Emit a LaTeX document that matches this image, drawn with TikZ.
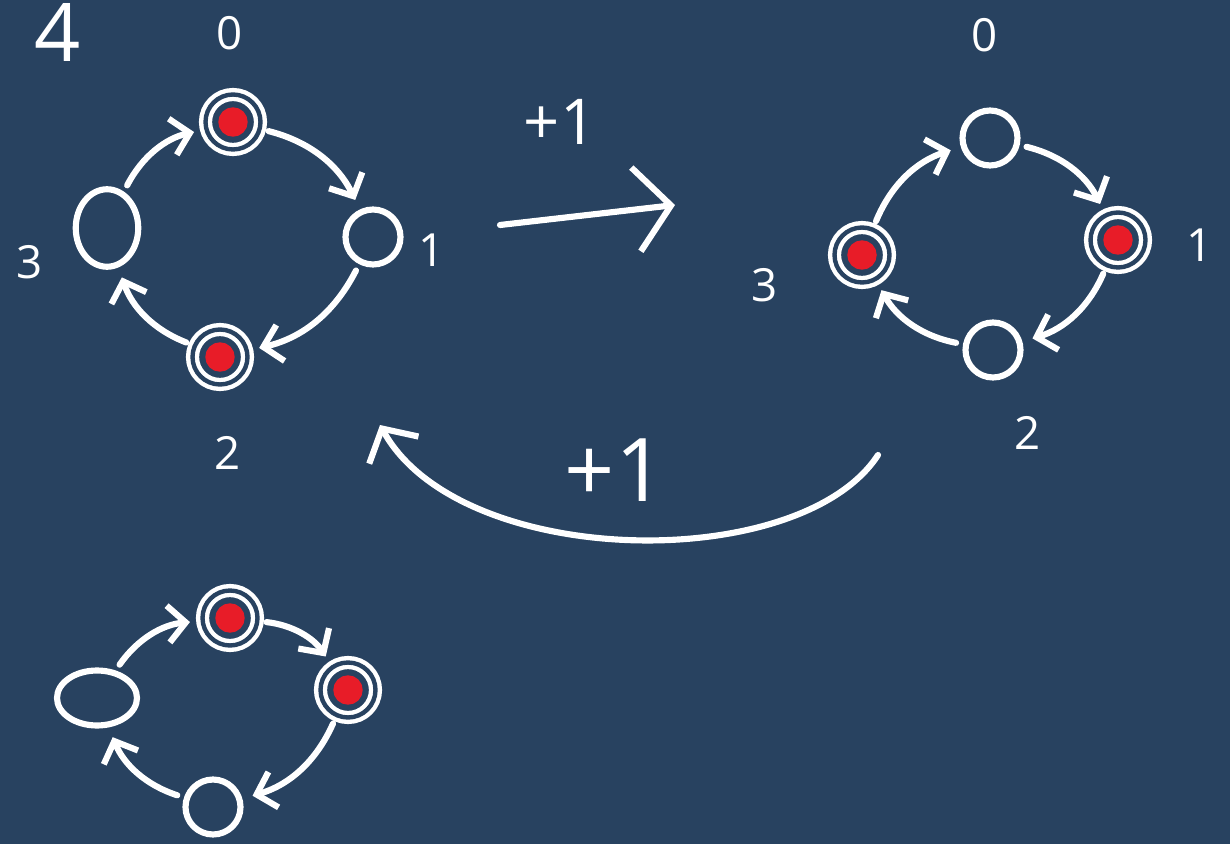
\documentclass[tikz,border=0pt]{standalone}
\usepackage{fontspec}
\setmainfont{Open Sans}
\usetikzlibrary{positioning,arrows.meta,shapes.geometric}
\definecolor{board}{RGB}{40,66,96}
\definecolor{pen}{RGB}{232,28,40}

\begin{document}
\begin{tikzpicture}[x=0.02cm,y=-0.02cm,
      ring/.style={circle,draw=white,line width=3.5pt,minimum size=1.1cm,inner sep=0pt},
      oval/.style={ellipse,draw=white,line width=3.5pt,inner sep=0pt},
      held/.style={ring,double=board,double distance=2.5pt,line width=2.5pt,minimum size=1.1cm},
      redmark/.style={circle,draw=pen,fill=pen,line width=2.5pt,minimum size=0.5cm,inner sep=0pt},
      lbl/.style={text=white,font=\fontsize{26}{26}\selectfont},
      arr/.style={draw=white,line width=3.5pt,line cap=round,-{Straight Barb[length=10pt,width=21pt]}}]
    \path[use as bounding box,fill=board] (0,0) rectangle (1230,844);
    % before
    \node[held] (a0) at (233,122) {};
    \node[ring] (a1) at (373,237) {};
    \node[held] (a2) at (220,357) {};
    \node[oval,minimum width=1.25cm,minimum height=1.55cm] (a3) at (107,228) {};
    \node[lbl,font=\fontsize{46}{46}\selectfont] (count) at (58,32) {4};
    \node[lbl] (a0-lbl) at (230,33) {0};
    \node[lbl] (a1-lbl) at (432,250) {1};
    \node[lbl] (a2-lbl) at (228,453) {2};
    \node[lbl] (a3-lbl) at (30,262) {3};
    % after one step
    \node[ring] (b0) at (990,138) {};
    \node[held] (b1) at (1118,240) {};
    \node[ring] (b2) at (993,350) {};
    \node[held] (b3) at (862,255) {};
    \node[lbl] (b0-lbl) at (985,35) {0};
    \node[lbl] (b1-lbl) at (1200,245) {1};
    \node[lbl] (b2-lbl) at (1028,433) {2};
    \node[lbl] (b3-lbl) at (765,285) {3};
    % next
    \node[held] (c0) at (230,618) {};
    \node[held] (c1) at (348,690) {};
    \node[ring] (c2) at (213,807) {};
    \node[oval,minimum width=1.6cm,minimum height=1.1cm] (c3) at (97,698) {};
    \foreach \n in {a0,a2,b1,b3,c0,c1} {
      \node[redmark] (\n-red) at (\n) {};
    }
    \foreach \s/\t in {a3/a0,a0/a1,a1/a2,a2/a3,b3/b0,b0/b1,b1/b2,b2/b3,c3/c0,c0/c1,c1/c2,c2/c3} {
      \draw[arr,shorten <=4pt,shorten >=6pt] (\s) to[bend left=25] (\t);
    }
    % shifts
    \coordinate (go) at (500,225);
    \coordinate (gone) at (675,205);
    \draw[arr,-{Straight Barb[length=20pt,width=48pt]}] (go) -- (gone);
    \node[lbl,font=\fontsize{36}{36}\selectfont] (go-lbl) at (560,122) {+1};
    \coordinate (back) at (878,455);
    \coordinate (backend) at (380,425);
    \draw[arr,-{Straight Barb[length=14pt,width=32pt]}] (back) .. controls (800,575) and (460,570) .. (backend);
    \node[lbl,font=\fontsize{50}{50}\selectfont] (back-lbl) at (615,470) {+1};
  \end{tikzpicture}
\end{document}
